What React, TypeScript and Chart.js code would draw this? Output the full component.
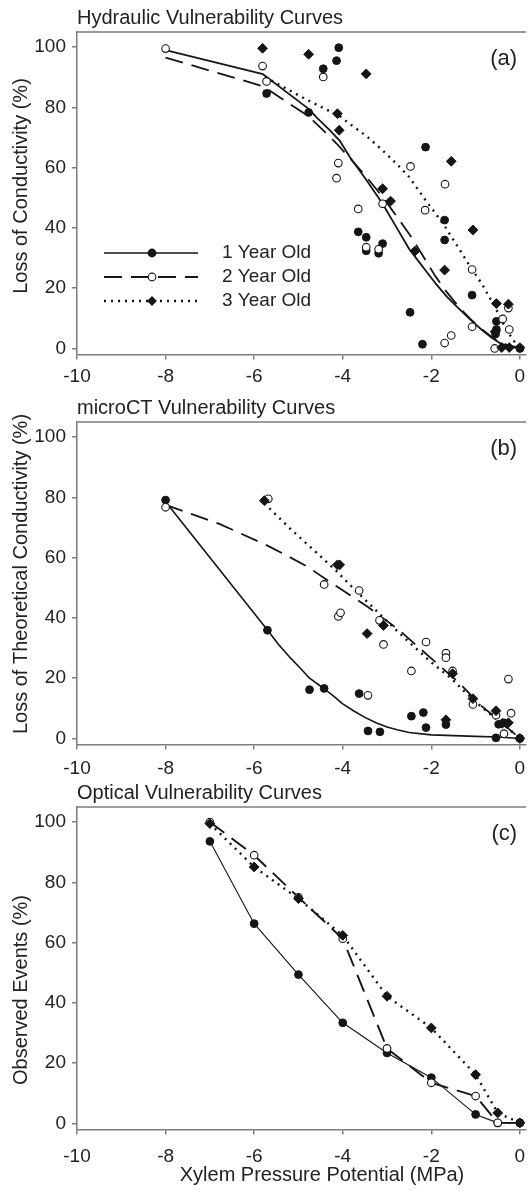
import React, { useEffect, useRef } from 'react';
import { Chart, registerables } from 'chart.js';

Chart.register(...registerables);

// ---------- text ----------
const SERIES_NAMES = ['1 Year Old', '2 Year Old', '3 Year Old'];
const PANEL_TITLES = ['Hydraulic Vulnerability Curves', 'microCT Vulnerability Curves', 'Optical Vulnerability Curves'];
const Y_TITLES = ['Loss of Conductivity (%)', 'Loss of Theoretical Conductivity (%)', 'Observed Events (%)'];
const PANEL_TAGS = ['(a)', '(b)', '(c)'];
const X_TITLE = 'Xylem Pressure Potential (MPa)';

// ---------- axes ----------
const X_TICKS = [-10, -8, -6, -4, -2, 0];
const Y_TICKS = [0, 20, 40, 60, 80, 100];
const X_RANGE = [-10, 0.14];
const Y_RANGE = [-2, 105];

// ---------- (a) hydraulic ----------
const hydPts1: [number, number][] = [
  [-5.72, 84.6], [-4.77, 78.3], [-4.44, 92.8], [-4.14, 95.5], [-4.09, 99.8], [-3.65, 38.7],
  [-3.47, 36.9], [-3.10, 34.8], [-3.47, 32.4], [-3.19, 31.6], [-2.13, 66.8], [-1.70, 42.6],
  [-1.70, 36.0], [-2.48, 12.0], [-2.20, 1.4], [-1.08, 17.7], [-0.53, 9.0], [-0.53, 6.3],
  [-0.55, 4.8], [0, 0],
];
const hydPts2: [number, number][] = [
  [-8.0, 99.5], [-5.81, 93.7], [-5.72, 88.6], [-4.44, 90.1], [-4.10, 61.5], [-4.14, 56.5],
  [-3.65, 46.3], [-3.47, 33.6], [-3.19, 32.9], [-3.10, 48.0], [-2.47, 60.4], [-2.14, 45.9],
  [-1.69, 54.5], [-1.08, 26.2], [-1.70, 1.8], [-1.55, 4.3], [-1.08, 7.2], [-0.26, 13.4],
  [-0.39, 9.8], [-0.24, 6.3], [-0.57, 0],
];
const hydPts3: [number, number][] = [
  [-5.81, 99.6], [-4.77, 97.6], [-3.47, 91.1], [-4.12, 77.9], [-4.08, 72.4], [-3.10, 53.0],
  [-2.92, 48.9], [-2.37, 32.3], [-1.55, 62.1], [-1.06, 39.3], [-1.70, 26.0], [-0.53, 14.9],
  [-0.26, 14.7], [-0.56, 5.6], [-0.41, 0.3], [-0.24, 0.3], [0, 0.3],
];
const hydFit1: [number, number][] = [
  [-8, 99], [-5.8, 91], [-4.77, 79.5], [-4.58, 76.5], [-4.30, 72.5], [-4.07, 69], [-3.84, 63.5],
  [-3.47, 56], [-3.10, 48], [-2.80, 40.5], [-2.50, 33], [-2.36, 30.3], [-2.10, 25.3], [-1.91, 21.7],
  [-1.65, 17.2], [-1.39, 13.4], [-1.10, 9.3], [-0.87, 6.3], [-0.62, 3.4], [-0.42, 1.5], [-0.2, 0.5], [0, 0],
];
const hydFit2: [number, number][] = [
  [-8, 96.5], [-5.8, 87], [-4.77, 77], [-4.45, 72.5], [-4.14, 68], [-3.80, 62.5], [-3.47, 57],
  [-3.10, 50.3], [-2.75, 43.2], [-2.43, 36.5], [-2.15, 29.8], [-1.91, 24], [-1.65, 18.7],
  [-1.39, 14], [-1.12, 9.8], [-0.87, 6.5], [-0.68, 4.3], [-0.5, 2.5], [-0.25, 0.9], [0, 0.3],
];
const hydFit3: [number, number][] = [
  [-5.75, 90], [-4.81, 82.5], [-4.06, 77], [-3.84, 74.5], [-3.45, 70.3], [-3.10, 65.7],
  [-2.80, 61.5], [-2.50, 56.9], [-2.13, 49.2], [-1.90, 44.7], [-1.69, 40.4], [-1.50, 36.0],
  [-1.31, 31.6], [-1.10, 26.6], [-0.87, 21.7], [-0.70, 17.3], [-0.57, 14], [-0.44, 10.2],
  [-0.31, 6.3], [-0.13, 2.4], [0, 0.5],
];

// ---------- (b) microCT ----------
const ctPts1: [number, number][] = [
  [-8, 79.1], [-5.70, 35.9], [-4.75, 16.2], [-4.42, 16.6], [-3.63, 14.9], [-3.43, 2.5],
  [-3.16, 2.2], [-2.45, 7.4], [-2.18, 8.6], [-2.12, 3.6], [-1.67, 4.6], [-0.48, 4.7],
  [-0.36, 5.2], [-0.54, 0.2], [0, 0],
];
const ctPts2: [number, number][] = [
  [-8, 76.7], [-5.68, 79.5], [-4.42, 51.1], [-4.10, 40.5], [-4.05, 41.7], [-3.63, 49.1],
  [-3.43, 14.3], [-3.17, 39.2], [-3.08, 31.2], [-2.12, 32.0], [-2.45, 22.4], [-1.67, 28.3],
  [-1.67, 26.8], [-1.52, 22.4], [-1.06, 11.3], [-0.54, 7.7], [-0.26, 19.7], [-0.20, 8.4],
  [-0.36, 1.6],
];
const ctPts3: [number, number][] = [
  [-5.77, 78.9], [-4.12, 57.6], [-4.07, 57.6], [-3.45, 34.8], [-3.08, 37.5], [-1.52, 21.5],
  [-1.67, 6.2], [-1.06, 13.2], [-0.54, 9.2], [-0.40, 5.0], [-0.26, 5.2], [0, 0],
];
const ctFit1: [number, number][] = [
  [-8, 78.5], [-5.70, 36], [-5.45, 31.2], [-5.2, 27], [-4.95, 23.2], [-4.75, 20], [-4.42, 16.5],
  [-4.2, 14], [-4.0, 11.5], [-3.75, 9.1], [-3.5, 7], [-3.25, 5.2], [-3.0, 3.8], [-2.75, 2.8],
  [-2.5, 2], [-2.0, 1.2], [-1.0, 0.7], [-0.5, 0.5], [0, 0],
];
const ctFit2: [number, number][] = [
  [-8, 77.5], [-6.8, 71.3], [-5.7, 64], [-5.25, 60.6], [-4.8, 57], [-4.14, 50.5], [-3.43, 43.6],
  [-2.73, 36], [-2.06, 27.3], [-1.39, 18.7], [-0.87, 10.8], [-0.57, 7.2], [0, 0],
];
const ctFit3: [number, number][] = [
  [-5.77, 78], [-5.18, 69.5], [-4.58, 61.5], [-4.14, 55.5], [-3.84, 51], [-3.25, 42.5],
  [-2.69, 34.5], [-2.02, 25.5], [-1.54, 19.8], [-1.24, 15.4], [-0.87, 10.5], [-0.50, 6],
  [-0.13, 1.7], [0, 0],
];

// ---------- (c) optical ----------
const optPts1: [number, number][] = [
  [-7, 93.6], [-6, 66.3], [-5, 49.4], [-4, 33.4], [-3, 23.4], [-2, 15.2], [-1, 3.0], [-0.5, 0.2], [0, 0.2],
];
const optPts2: [number, number][] = [
  [-7, 100], [-6, 89], [-5, 75], [-4, 61.3], [-3, 24.9], [-2, 13.5], [-1, 9.1], [-0.5, 0.2], [0, 0.2],
];
const optPts3: [number, number][] = [
  [-7, 99.5], [-6, 85.1], [-5, 74.6], [-4, 62.4], [-3, 42.2], [-2, 31.7], [-1, 16.2], [-0.5, 3.5], [0, 0.2],
];

// ---------- style ----------
const FONT = '"Liberation Sans", Arial, Helvetica, sans-serif';
const INK = '#151515';
const TEXT = '#222222';
const AXIS = '#7d7d7d';
const DASH_SOLID: number[] = [];
const DASH_LONG = [18, 9];
const DASH_DOT = [2, 5];

type Pt = [number, number];
const toXY = (a: Pt[]) => a.map(([x, y]) => ({ x, y }));

function lineDs(data: Pt[], dash: number[], width: number) {
  return {
    data: toXY(data), showLine: true, pointRadius: 0, borderColor: INK, borderWidth: width,
    borderDash: dash, fill: false, order: 10, tension: 0, borderJoinStyle: 'round',
  };
}
function ptsDs(data: Pt[], kind: number) {
  const base: any = { data: toXY(data), showLine: false, pointHoverRadius: 0 };
  if (kind === 0) return { ...base, pointStyle: 'circle', pointRadius: 3.9, backgroundColor: INK, borderColor: INK, borderWidth: 1, order: 5 };
  if (kind === 1) return { ...base, pointStyle: 'circle', pointRadius: 3.8, backgroundColor: '#ffffff', borderColor: INK, borderWidth: 1.1, order: 4 };
  return { ...base, pointStyle: 'rectRot', pointRadius: 4.9, backgroundColor: INK, borderColor: INK, borderWidth: 1, order: 3 };
}

function drawMarker(ctx: CanvasRenderingContext2D, kind: number, x: number, y: number) {
  ctx.beginPath();
  if (kind === 2) {
    const r = 4.9;
    ctx.moveTo(x - r, y); ctx.lineTo(x, y - r); ctx.lineTo(x + r, y); ctx.lineTo(x, y + r); ctx.closePath();
    ctx.fillStyle = INK; ctx.fill();
  } else {
    ctx.arc(x, y, 3.85, 0, Math.PI * 2);
    ctx.fillStyle = kind === 0 ? INK : '#ffffff'; ctx.fill();
    ctx.lineWidth = 1.1; ctx.strokeStyle = INK; ctx.setLineDash([]); ctx.stroke();
  }
}

const decoPlugin = {
  id: 'deco',
  afterDraw(chart: any, _args: any, o: any) {
    const { ctx, chartArea: ca } = chart;
    ctx.save();
    // top frame line
    ctx.strokeStyle = AXIS; ctx.lineWidth = 1.5; ctx.setLineDash([]);
    ctx.beginPath(); ctx.moveTo(ca.left, ca.top); ctx.lineTo(ca.right, ca.top); ctx.stroke();
    ctx.fillStyle = TEXT;
    // panel title
    ctx.font = `20px ${FONT}`; ctx.textAlign = 'left'; ctx.textBaseline = 'middle';
    ctx.fillText(o.title, ca.left, ca.top - 14);
    // panel tag
    ctx.font = `22px ${FONT}`; ctx.textAlign = 'right';
    ctx.fillText(o.tag, ca.right - 9, ca.top + 27);
    // y title
    ctx.save();
    ctx.translate(21, o.yTitleY);
    ctx.rotate(-Math.PI / 2);
    ctx.font = `20px ${FONT}`; ctx.textAlign = 'center'; ctx.textBaseline = 'middle';
    ctx.fillText(o.yTitle, 0, 0);
    ctx.restore();
    // x title
    if (o.xTitle) {
      ctx.font = `20px ${FONT}`; ctx.textAlign = 'center'; ctx.textBaseline = 'middle';
      ctx.fillText(o.xTitle, 322, ca.bottom + 46);
    }
    // legend
    if (o.legend) {
      const dashes = [DASH_SOLID, DASH_LONG, DASH_DOT];
      const widths = [1.6, 2, 2.4];
      SERIES_NAMES.forEach((name, i) => {
        const y = ca.top + 221 + i * 24;
        ctx.strokeStyle = INK; ctx.lineWidth = widths[i]; ctx.setLineDash(dashes[i]);
        ctx.beginPath(); ctx.moveTo(104, y); ctx.lineTo(198, y); ctx.stroke();
        ctx.setLineDash([]);
        drawMarker(ctx, i, 152, y);
        ctx.fillStyle = TEXT; ctx.font = `19px ${FONT}`; ctx.textAlign = 'left'; ctx.textBaseline = 'middle';
        ctx.fillText(name, 222, y);
      });
    }
    ctx.restore();
  },
};

interface PanelSpec {
  height: number; padTop: number; xAxisH: number; xTickPad: number;
  idx: number; yTitleY: number; legend: boolean; xTitle: string | null;
  datasets: any[];
}

function makeConfig(p: PanelSpec): any {
  const tickFont = { family: FONT, size: 19 };
  return {
    type: 'scatter',
    data: { datasets: p.datasets },
    options: {
      responsive: false,
      animation: false,
      events: [],
      layout: { padding: { top: p.padTop, left: 0, right: 0, bottom: 0 } },
      plugins: {
        legend: { display: false },
        tooltip: { enabled: false },
        deco: {
          title: PANEL_TITLES[p.idx], tag: PANEL_TAGS[p.idx], yTitle: Y_TITLES[p.idx],
          yTitleY: p.yTitleY, legend: p.legend, xTitle: p.xTitle,
        },
      },
      scales: {
        x: {
          type: 'linear', min: X_RANGE[0], max: X_RANGE[1],
          afterBuildTicks: (s: any) => { s.ticks = X_TICKS.map((v) => ({ value: v })); },
          afterFit: (s: any) => { s.height = p.xAxisH; s.paddingLeft = 0; s.paddingRight = 0; },
          ticks: { font: tickFont, color: TEXT, padding: p.xTickPad, maxRotation: 0, autoSkip: false, callback: (v: any) => String(v) },
          grid: { drawOnChartArea: false, drawTicks: true, tickLength: 5, color: AXIS, lineWidth: 1.5 },
          border: { display: true, color: AXIS, width: 1.5 },
        },
        y: {
          type: 'linear', min: Y_RANGE[0], max: Y_RANGE[1],
          afterBuildTicks: (s: any) => { s.ticks = Y_TICKS.map((v) => ({ value: v })); },
          afterFit: (s: any) => { s.width = 77; s.paddingTop = 0; s.paddingBottom = 0; },
          ticks: { font: tickFont, color: TEXT, padding: 6, autoSkip: false, callback: (v: any) => String(v) },
          grid: { drawOnChartArea: false, drawTicks: true, tickLength: 5, color: AXIS, lineWidth: 1.5 },
          border: { display: true, color: AXIS, width: 1.5 },
        },
      },
    },
    plugins: [decoPlugin],
  };
}

const PANELS: PanelSpec[] = [
  {
    height: 390, padTop: 32, xAxisH: 35.5, xTickPad: 6, idx: 0, yTitleY: 186, legend: true, xTitle: null,
    datasets: [
      lineDs(hydFit1, DASH_SOLID, 1.8), lineDs(hydFit2, DASH_LONG, 1.8), lineDs(hydFit3, DASH_DOT, 2.4),
      ptsDs(hydPts1, 0), ptsDs(hydPts2, 1), ptsDs(hydPts3, 2),
    ],
  },
  {
    height: 390, padTop: 32, xAxisH: 35.5, xTickPad: 8, idx: 1, yTitleY: 184, legend: false, xTitle: null,
    datasets: [
      lineDs(ctFit1, DASH_SOLID, 1.6), lineDs(ctFit2, DASH_LONG, 1.8), lineDs(ctFit3, DASH_DOT, 2.4),
      ptsDs(ctPts1, 0), ptsDs(ctPts2, 1), ptsDs(ctPts3, 2),
    ],
  },
  {
    height: 413, padTop: 27, xAxisH: 63.5, xTickPad: 11, idx: 2, yTitleY: 210, legend: false, xTitle: X_TITLE,
    datasets: [
      lineDs(optPts1, DASH_SOLID, 1.1), lineDs(optPts2, DASH_LONG, 1.9), lineDs(optPts3, DASH_DOT, 2.4),
      ptsDs(optPts1, 0), ptsDs(optPts2, 1), ptsDs(optPts3, 2),
    ],
  },
];

function Panel({ spec }: { spec: PanelSpec }) {
  const ref = useRef<HTMLCanvasElement | null>(null);
  useEffect(() => {
    if (!ref.current) return;
    const chart = new Chart(ref.current, makeConfig(spec));
    return () => chart.destroy();
  }, [spec]);
  return <canvas ref={ref} width={532} height={spec.height} style={{ display: 'block', width: 532, height: spec.height }} />;
}

export default function App() {
  return (
    <div style={{ position: 'absolute', left: 0, top: 0, width: 532, height: 1193, background: '#ffffff', overflow: 'hidden' }}>
      {PANELS.map((p) => <Panel key={p.idx} spec={p} />)}
    </div>
  );
}
